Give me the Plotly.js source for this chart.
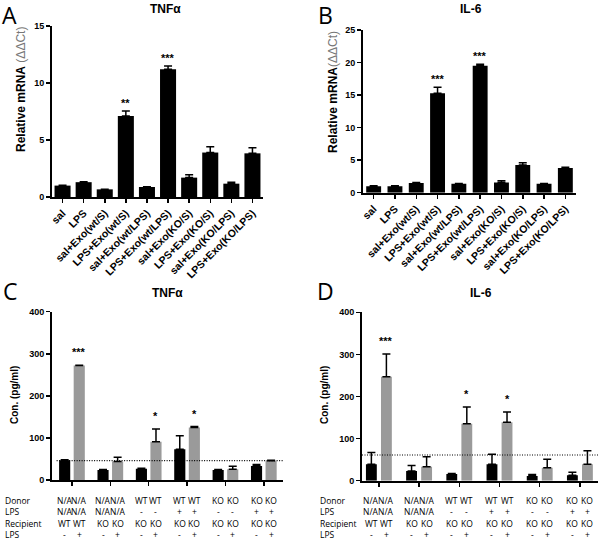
<!DOCTYPE html>
<html><head><meta charset="utf-8">
<script src="https://cdn.plot.ly/plotly-3.0.1.min.js"></script>
<style>html,body{margin:0;padding:0;background:#fff}#chart{width:600px;height:539px}</style>
</head><body><div id="chart"></div>
<script>
// ---------- DATA ----------
const qpcrCategories = ["sal","LPS","sal+Exo(wt/S)","LPS+Exo(wt/S)","sal+Exo(wt/LPS)","LPS+Exo(wt/LPS)","sal+Exo(KO/S)","LPS+Exo(KO/S)","sal+Exo(KO/LPS)","LPS+Exo(KO/LPS)"];
const tnfMrna    = [1.0, 1.3, 0.67, 7.1, 0.88, 11.2, 1.7, 3.9, 1.17, 3.83];
const tnfMrnaErr = [0.03, 0.03, 0.02, 0.45, 0.03, 0.3, 0.25, 0.5, 0.12, 0.5];
const tnfMrnaSig = ["","","","**","","***","","","",""];
const il6Mrna    = [1.0, 1.0, 1.5, 15.3, 1.38, 19.5, 1.55, 4.26, 1.38, 3.8];
const il6MrnaErr = [0.05, 0.05, 0.05, 0.9, 0.05, 0.25, 0.3, 0.35, 0.05, 0.1];
const il6MrnaSig = ["","","","***","","***","","","",""];

const groups = ["G1","G2","G3","G4","G5","G6"];
const tnfNoLps      = [47, 24, 27, 73, 24, 33];
const tnfNoLpsErr   = [1, 1, 1, 32, 1, 4];
const tnfLps        = [272, 44, 91, 125, 25.5, 46];
const tnfLpsErr     = [1, 10, 30, 2, 7, 1];
const tnfLpsSig     = ["***","","*","*","",""];
const tnfBaseline   = 46;
const il6NoLps      = [39, 23, 16, 39, 11, 13];
const il6NoLpsErr   = [28, 13, 1, 24, 4, 7];
const il6Lps        = [247, 33, 135, 139, 31, 39];
const il6LpsErr     = [54, 24, 40, 24, 20, 32];
const il6LpsSig     = ["***","","*","*","",""];
const il6Baseline   = 61;

const rowLabels   = ["Donor","LPS","Recipient","LPS"];
const donorRow    = ["N/A","N/A","N/A","N/A","WT","WT","WT","WT","KO","KO","KO","KO"];
const donorLpsRow = ["N/A","N/A","N/A","N/A","-","-","+","+","-","-","+","+"];
const recipRow    = ["WT","WT","KO","KO","KO","KO","KO","KO","KO","KO","KO","KO"];
const recipLpsRow = ["-","+","-","+","-","+","-","+","-","+","-","+"];

// ---------- LAYOUT HELPERS ----------
const W = 600, H = 539;
const px = x => x / W;
const py = y => 1 - y / H;
const BOLD = {family: "Liberation Sans, Arial, sans-serif", color: "#000", weight: "bold"};
const zeros = n => new Array(n).fill(0);

function errY(arr) {
  return {type: "data", symmetric: false, array: arr, arrayminus: zeros(arr.length),
          color: "#000", thickness: 1.5, width: 4, visible: true};
}

const traces = [];
traces.push({type: "bar", x: qpcrCategories, y: tnfMrna, xaxis: "x", yaxis: "y",
  marker: {color: "#000"}, width: 0.76, error_y: errY(tnfMrnaErr), hoverinfo: "none"});
traces.push({type: "bar", x: qpcrCategories, y: il6Mrna, xaxis: "x2", yaxis: "y2",
  marker: {color: "#000"}, width: 0.7, error_y: errY(il6MrnaErr), hoverinfo: "none"});

const offC = 0.19, offD = 0.187;
const gi = groups.map((g, i) => i);
traces.push({type: "bar", x: gi.map(i => i - offC), y: tnfNoLps, xaxis: "x3", yaxis: "y3",
  marker: {color: "#000"}, width: 0.29, error_y: errY(tnfNoLpsErr), hoverinfo: "none"});
traces.push({type: "bar", x: gi.map(i => i + offC), y: tnfLps, xaxis: "x3", yaxis: "y3",
  marker: {color: "#9a9a9a"}, width: 0.29, error_y: errY(tnfLpsErr), hoverinfo: "none"});
traces.push({type: "bar", x: gi.map(i => i - offD), y: il6NoLps, xaxis: "x4", yaxis: "y4",
  marker: {color: "#000"}, width: 0.27, error_y: errY(il6NoLpsErr), hoverinfo: "none"});
traces.push({type: "bar", x: gi.map(i => i + offD), y: il6Lps, xaxis: "x4", yaxis: "y4",
  marker: {color: "#9a9a9a"}, width: 0.27, error_y: errY(il6LpsErr), hoverinfo: "none"});

function xAx(domain, extra) {
  return Object.assign({domain: domain, showline: true, linewidth: 2, linecolor: "#000",
    ticks: "outside", ticklen: 4, tickwidth: 1.5, tickcolor: "#000", showgrid: false,
    zeroline: false, fixedrange: true}, extra);
}
function yAx(domain, range, dtick, anchor) {
  return {domain: domain, range: range, dtick: dtick, anchor: anchor, showline: true, linewidth: 2,
    linecolor: "#000", ticks: "outside", ticklen: 4, tickwidth: 1.5, tickcolor: "#000",
    showgrid: false, zeroline: false, tickfont: Object.assign({}, BOLD, {size: 9}), fixedrange: true};
}

const layout = {
  width: W, height: H, margin: {l: 0, r: 0, t: 0, b: 0},
  paper_bgcolor: "#fff", plot_bgcolor: "rgba(0,0,0,0)", showlegend: false,
  xaxis: xAx([px(52), px(263)], {type: "category", range: [-0.5, 9.5], anchor: "y",
    tickangle: -45, tickfont: Object.assign({}, BOLD, {size: 10.5})}),
  yaxis: yAx([py(197), py(26)], [0, 15], 5, "x"),
  xaxis2: xAx([px(363), px(576)], {type: "category", range: [-0.5, 9.5], anchor: "y2",
    tickangle: -45, tickfont: Object.assign({}, BOLD, {size: 10.5})}),
  yaxis2: yAx([py(192.7), py(30)], [0, 25], 5, "x2"),
  xaxis3: xAx([px(52), px(283)], {range: [-0.52, 5.5], anchor: "y3", tickvals: gi, showticklabels: false}),
  yaxis3: yAx([py(480), py(311.7)], [0, 400], 100, "x3"),
  xaxis4: xAx([px(362), px(598)], {range: [-0.42, 5.45], anchor: "y4", tickvals: gi, showticklabels: false}),
  yaxis4: yAx([py(480.7), py(312.3)], [0, 400], 100, "x4"),
  shapes: [
    {type: "line", xref: "x3 domain", x0: 0.02, x1: 1, yref: "y3", y0: tnfBaseline, y1: tnfBaseline,
     line: {color: "#000", width: 1.2, dash: "1px,1.5px"}},
    {type: "line", xref: "x4 domain", x0: 0.0, x1: 1, yref: "y4", y0: il6Baseline, y1: il6Baseline,
     line: {color: "#000", width: 1.2, dash: "1px,1.5px"}}
  ],
  annotations: []
};
const ann = layout.annotations;
function paperText(text, x, y, font, extra) {
  ann.push(Object.assign({text: text, xref: "paper", yref: "paper", x: px(x), y: py(y),
    showarrow: false, xanchor: "center", yanchor: "middle", font: font}, extra || {}));
}
const LETTER = {family: "Open Sans, sans-serif", size: 23, color: "#000"};
paperText("A", 9, 15, LETTER);
paperText("B", 325, 15, LETTER);
paperText("C", 10, 291, LETTER);
paperText("D", 325, 291, LETTER);
const TITLE = Object.assign({}, BOLD, {size: 12});
paperText("TNFα", 165, 9, TITLE);
paperText("IL-6", 471, 9, TITLE);
paperText("TNFα", 167, 293, TITLE);
paperText("IL-6", 481, 293, TITLE);
const YT = {family: "Liberation Sans, Arial, sans-serif", size: 12, color: "#000"};
paperText("<b>Relative mRNA</b> <span style='color:#777'>(ΔΔCt)</span>", 21, 90, YT, {textangle: -90});
paperText("<b>Relative mRNA</b><span style='color:#777'>(ΔΔCt)</span>", 333, 92, YT, {textangle: -90});
paperText("<b>Con. (pg/ml)</b>", 14, 395, Object.assign({}, YT, {size: 10}), {textangle: -90});
paperText("<b>Con. (pg/ml)</b>", 324, 395, Object.assign({}, YT, {size: 10}), {textangle: -90});

const STAR = Object.assign({}, BOLD, {size: 11});
function stars(sig, xs, vals, errs, xref, yref, shift) {
  sig.forEach((s, i) => {
    if (!s) return;
    ann.push({text: s, x: xs[i], y: vals[i] + errs[i], xref: xref, yref: yref, showarrow: false,
      xanchor: "center", yanchor: "bottom", yshift: shift, font: STAR});
  });
}
stars(tnfMrnaSig, qpcrCategories, tnfMrna, tnfMrnaErr, "x", "y", 0);
stars(il6MrnaSig, qpcrCategories, il6Mrna, il6MrnaErr, "x2", "y2", 0);
stars(tnfLpsSig, gi.map(i => i + offC), tnfLps, tnfLpsErr, "x3", "y3", 5);
stars(il6LpsSig, gi.map(i => i + offD), il6Lps, il6LpsErr, "x4", "y4", 5);

const TABLE = {family: "Open Sans, sans-serif", size: 8.5, color: "#000"};
const rows = [donorRow, donorLpsRow, recipRow, recipLpsRow];
const rowY = [500, 511.6, 523, 534.4];
function table(xref, off, labelX) {
  rows.forEach((row, r) => {
    paperText(rowLabels[r], labelX, rowY[r], TABLE, {xanchor: "left"});
    row.forEach((t, k) => {
      const g = Math.floor(k / 2), xv = g + (k % 2 === 0 ? -off : off);
      ann.push({text: t, x: xv, xref: xref, y: py(rowY[r]), yref: "paper", showarrow: false,
        xanchor: "center", yanchor: "middle", font: TABLE});
    });
  });
}
table("x3", offC, 3);
table("x4", offD, 318);

Plotly.newPlot("chart", traces, layout, {staticPlot: true, displayModeBar: false});
</script></body></html>
